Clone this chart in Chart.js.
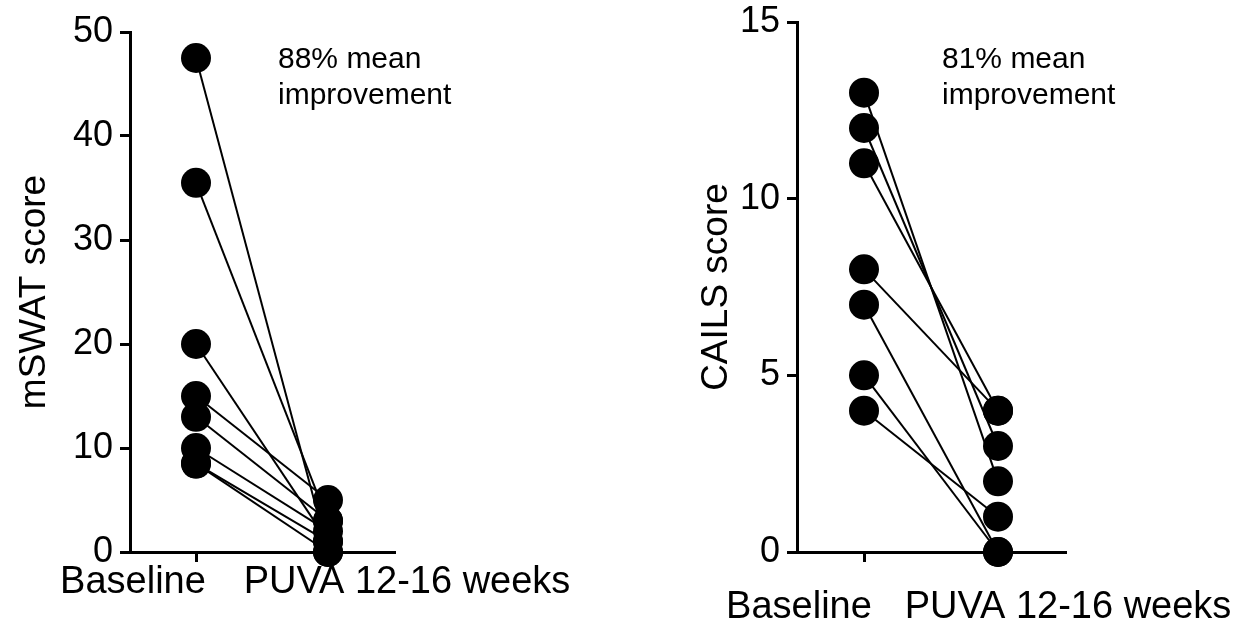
<!DOCTYPE html>
<html>
<head>
<meta charset="utf-8">
<script src="https://cdn.jsdelivr.net/npm/chart.js@4.4.0/dist/chart.umd.min.js"></script>
<style>
  body { margin: 0; background: #fff; }
  #wrap { position: relative; width: 1246px; height: 641px; }
  .panel { position: absolute; top: 0; width: 623px; height: 641px; }
</style>
</head>
<body>
<div id="wrap">
  <div class="panel" style="left:0"><canvas id="mswat"></canvas></div>
  <div class="panel" style="left:623px"><canvas id="cails"></canvas></div>
</div>
<script>
var categories = ['Baseline', 'PUVA 12-16 weeks'];

// one entry per patient, baseline -> after PUVA
var mswatBaseline = [47.5, 35.5, 20, 15, 13, 10, 8.5, 8.5];
var mswatPuva = [0, 3, 1, 5, 3, 2, 1, 0];
var mswatTicks = [0, 10, 20, 30, 40, 50];
var mswatNote = ['88% mean', 'improvement'];

var cailsBaseline = [13, 12, 11, 8, 7, 5, 4];
var cailsPuva = [2, 3, 4, 4, 0, 0, 1];
var cailsTicks = [0, 5, 10, 15];
var cailsNote = ['81% mean', 'improvement'];

var FONT = 'Arial, "Liberation Sans", sans-serif';

var textPlugin = {
    id: 'panelText',
    afterDraw: function (chart) {
        var o = chart.options.plugins.panelText;
        var ctx = chart.ctx;
        var xs = chart.scales.x;
        ctx.save();
        ctx.fillStyle = '#000';
        ctx.textBaseline = 'middle';
        ctx.textAlign = 'center';
        ctx.font = '38px ' + FONT;
        for (var i = 0; i < categories.length; i++) {
            ctx.fillText(categories[i], xs.getPixelForValue(i) + o.labelShift[i], o.labelY);
        }
        ctx.textAlign = 'left';
        ctx.font = '30px ' + FONT;
        for (var k = 0; k < o.note.length; k++) {
            ctx.fillText(o.note[k], o.noteX, o.noteY + k * 36);
        }
        ctx.restore();
    }
};

function drawPanel(id, base, post, yTicks, yTitle, note, cfg) {
    var datasets = [];
    for (var i = 0; i < base.length; i++) {
        datasets.push({
            data: [{ x: 0, y: base[i] }, { x: 1, y: post[i] }],
            showLine: true,
            borderColor: '#000',
            backgroundColor: '#000',
            borderWidth: 2,
            pointRadius: 15,
            pointHoverRadius: 15,
            pointBorderWidth: 0,
            clip: false
        });
    }

    var axisGrid = { drawOnChartArea: false, tickLength: 10, lineWidth: 3, color: '#000' };
    var axisBorder = { width: 3, color: '#000' };

    new Chart(document.getElementById(id), {
        type: 'scatter',
        data: { datasets: datasets },
        plugins: [textPlugin],
        options: {
            responsive: true,
            maintainAspectRatio: false,
            animation: false,
            events: [],
            layout: { padding: { left: 0, top: cfg.top, right: cfg.right, bottom: 0 } },
            plugins: {
                legend: { display: false },
                tooltip: { enabled: false },
                panelText: {
                    labelShift: cfg.labelShift,
                    labelY: cfg.labelY,
                    note: note,
                    noteX: cfg.noteX,
                    noteY: 60
                }
            },
            scales: {
                x: {
                    type: 'linear',
                    min: -0.5,
                    max: 1.5,
                    afterBuildTicks: function (s) {
                        s.ticks = categories.map(function (c, i) { return { value: i }; });
                    },
                    ticks: { display: false },
                    grid: axisGrid,
                    border: axisBorder,
                    afterFit: function (s) { s.height = 89; }
                },
                y: {
                    min: 0,
                    max: yTicks[yTicks.length - 1],
                    afterBuildTicks: function (s) {
                        s.ticks = yTicks.map(function (v) { return { value: v }; });
                    },
                    ticks: { color: '#000', font: { family: FONT, size: 36 }, padding: 7 },
                    grid: axisGrid,
                    border: axisBorder,
                    title: {
                        display: true,
                        text: yTitle,
                        color: '#000',
                        font: { family: FONT, size: 37 },
                        padding: { top: cfg.titlePad, bottom: 0 }
                    },
                    afterFit: function (s) {
                        s.width = cfg.left;
                        s.paddingTop = 0;
                        s.paddingBottom = 0;
                    }
                }
            }
        }
    });
}

drawPanel('mswat', mswatBaseline, mswatPuva, mswatTicks, 'mSWAT score', mswatNote, {
    left: 130, top: 32, right: 229, titlePad: 13,
    labelShift: [-63, 79], labelY: 583, noteX: 278
});

drawPanel('cails', cailsBaseline, cailsPuva, cailsTicks, 'CAILS score', cailsNote, {
    left: 174, top: 22, right: 181, titlePad: 72,
    labelShift: [-65, 70], labelY: 608, noteX: 319
});
</script>
</body>
</html>
